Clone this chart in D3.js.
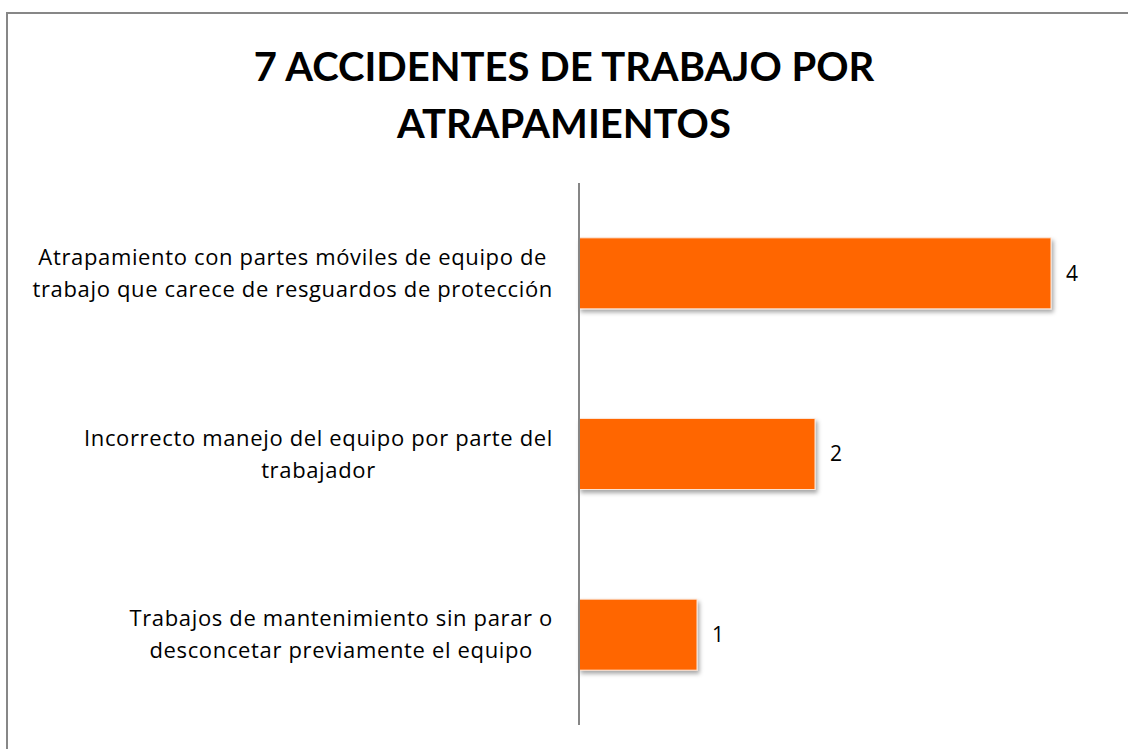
<!DOCTYPE html>
<html>
<head>
<meta charset="utf-8">
<script src="https://cdn.jsdelivr.net/npm/d3@7"></script>
<style>
  body { margin: 0; background: #fff; }
  svg { display: block; }
  text { font-family: "Open Sans", Lato, sans-serif; fill: #000; }
  .title { font-family: Lato, "Open Sans", sans-serif; }
</style>
</head>
<body>
<div id="chart"></div>
<script>
// chart data
const titleLines = ['7 ACCIDENTES DE TRABAJO POR', 'ATRAPAMIENTOS'];
const categories = [
    ['Atrapamiento con partes móviles de equipo de', 'trabajo que carece de resguardos de protección'],
    ['Incorrecto manejo del equipo por parte del', 'trabajador'],
    ['Trabajos de mantenimiento sin parar o', 'desconcetar previamente el equipo']
];
const values = [4, 2, 1];

const W = 1128, H = 749;
const plot = { left: 579, top: 183, bottom: 725 };
const unit = 118; // px per accident

const svg = d3.select('#chart').append('svg')
    .attr('width', W)
    .attr('height', H);

// drop shadow for bars
const defs = svg.append('defs');
const f = defs.append('filter').attr('id', 'shadow')
    .attr('x', '-10%').attr('y', '-10%').attr('width', '130%').attr('height', '140%');
f.append('feDropShadow')
    .attr('dx', 2).attr('dy', 3).attr('stdDeviation', 2)
    .attr('flood-color', '#000').attr('flood-opacity', 0.35);

// outer frame (right and bottom edges fall outside the picture)
svg.append('rect')
    .attr('x', 7).attr('y', 13)
    .attr('width', W + 20).attr('height', H + 20)
    .attr('fill', 'none')
    .attr('stroke', '#878787')
    .attr('stroke-width', 2);

// title
const title = svg.append('text')
    .attr('class', 'title')
    .attr('x', 564)
    .attr('y', 81)
    .attr('text-anchor', 'middle')
    .style('font-size', '40px')
    .style('font-weight', 'bold');
title.selectAll('tspan')
    .data(titleLines)
    .enter().append('tspan')
    .attr('x', 564)
    .attr('dy', (d, i) => i === 0 ? 0 : 57)
    .text(d => d);

// scales
const x = d3.scaleLinear()
    .domain([0, 4])
    .range([plot.left, plot.left + 4 * unit]);

const y = d3.scaleBand()
    .domain(d3.range(categories.length))
    .range([plot.top, plot.bottom])
    .paddingInner(0.607)
    .paddingOuter(0.3035);

// bars
svg.selectAll('rect.bar')
    .data(values)
    .enter().append('rect')
    .attr('class', 'bar')
    .attr('x', x(0))
    .attr('y', (d, i) => y(i))
    .attr('width', d => x(d) - x(0))
    .attr('height', y.bandwidth())
    .attr('fill', '#FF6600')
    .attr('stroke', '#FCE4D4')
    .attr('stroke-width', 1)
    .attr('filter', 'url(#shadow)');

// value labels
svg.selectAll('text.value')
    .data(values)
    .enter().append('text')
    .attr('class', 'value')
    .attr('x', d => x(d) + 15)
    .attr('y', (d, i) => y(i) + y.bandwidth() / 2)
    .attr('dy', '0.35em')
    .style('font-size', '21px')
    .text(d => d);

// vertical category axis
const axis = svg.append('g')
    .attr('transform', `translate(${plot.left},0)`)
    .call(d3.axisLeft(y).tickSize(0).tickFormat(''));
axis.select('.domain')
    .attr('d', `M0,${plot.top}V${plot.bottom}`)
    .attr('stroke', '#868686')
    .attr('stroke-width', 2);

// category labels: lines centred, block right-aligned to the axis
const labelRight = 553;
const lineGap = 32;
categories.forEach((lines, i) => {
    const g = svg.append('g');
    const cy = y(i) + y.bandwidth() / 2;
    const texts = lines.map((line, j) => g.append('text')
        .attr('y', cy + (j - (lines.length - 1) / 2) * lineGap)
        .attr('dy', '0.35em')
        .attr('text-anchor', 'middle')
        .style('font-size', '22px')
        .style('letter-spacing', '0.65px')
        .text(line));
    const maxW = d3.max(texts, t => t.node().getComputedTextLength());
    texts.forEach(t => t.attr('x', labelRight - maxW / 2));
});
</script>
</body>
</html>
